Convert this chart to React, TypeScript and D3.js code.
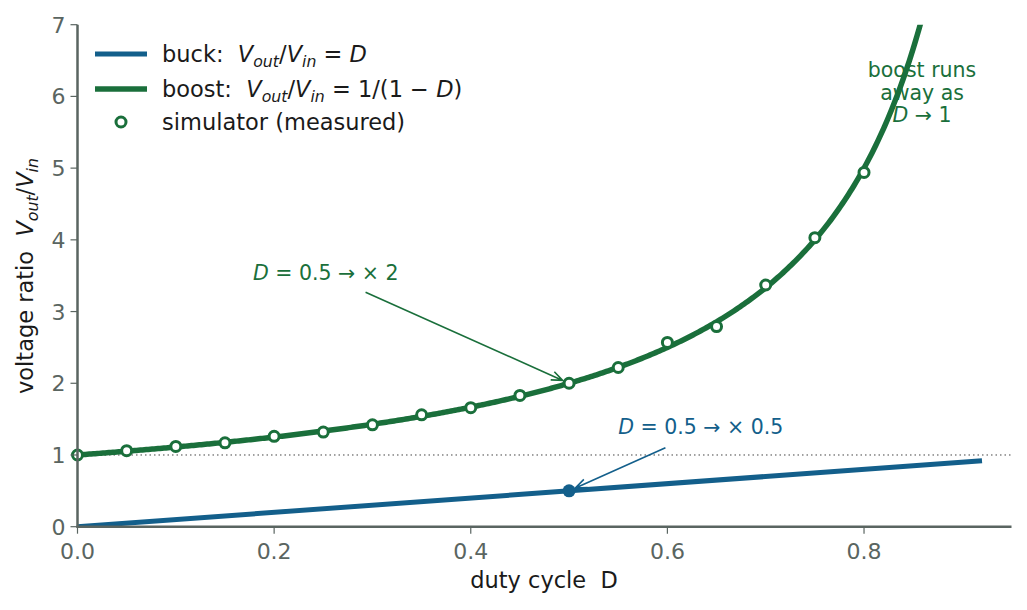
import React from 'react';
import * as d3 from 'd3';

// measured simulator points
const dutyMeasured = [0, 0.05, 0.1, 0.15, 0.2, 0.25, 0.3, 0.35, 0.4, 0.45, 0.5, 0.55, 0.6, 0.65, 0.7, 0.75, 0.8];
const ratioMeasured = [1.0, 1.06, 1.12, 1.17, 1.26, 1.32, 1.42, 1.56, 1.66, 1.83, 2.0, 2.22, 2.57, 2.79, 3.37, 4.03, 4.94];

const dutyRange = [0, 0.92];
const xTicks = [0, 0.2, 0.4, 0.6, 0.8];
const yTicks = [0, 1, 2, 3, 4, 5, 6, 7];

const BLUE = '#135f8b';
const GREEN = '#1a6f3b';
const SPINE = '#5a6561';
const TICK_TEXT = '#5a6561';
const FONT = '"DejaVu Sans", sans-serif';
const NB = '\u00a0';

type Seg = { t: string; it?: boolean; sub?: boolean };

// crude mathtext: italic + subscript segments
const MathText = ({ segs, ...rest }: { segs: Seg[]; [k: string]: any }) => {
  let shifted = false;
  return (
    <text {...rest}>
      {segs.map((s, i) => {
        let dy = 0;
        if (s.sub && !shifted) { dy = 5; shifted = true; }
        else if (!s.sub && shifted) { dy = -5; shifted = false; }
        return (
          <tspan key={i} dy={dy || undefined} fontStyle={s.it ? 'italic' : undefined}
            fontSize={s.sub ? '70%' : undefined}>{s.t}</tspan>
        );
      })}
    </text>
  );
};

const ratioSegs: Seg[] = [
  { t: 'V', it: true }, { t: 'out', it: true, sub: true }, { t: '/' },
  { t: 'V', it: true }, { t: 'in', it: true, sub: true },
];

function arrow(x1: number, y1: number, x2: number, y2: number, shrink = 7, head = 12, ang = 0.38) {
  const a = Math.atan2(y2 - y1, x2 - x1);
  const tx = x2 - shrink * Math.cos(a);
  const ty = y2 - shrink * Math.sin(a);
  const h1 = [tx - head * Math.cos(a - ang), ty - head * Math.sin(a - ang)];
  const h2 = [tx - head * Math.cos(a + ang), ty - head * Math.sin(a + ang)];
  return `M${x1},${y1}L${tx},${ty}M${h1[0]},${h1[1]}L${tx},${ty}L${h2[0]},${h2[1]}`;
}

export default function App() {
  const W = 1027, H = 610;
  const x = d3.scaleLinear().domain([0, 0.95]).range([77.5, 1011.5]);
  const y = d3.scaleLinear().domain([0, 7]).range([526.7, 24.7]);

  const line = d3.line<[number, number]>().x(d => x(d[0])).y(d => y(d[1]));
  const boostPts: [number, number][] = d3.range(0, dutyRange[1] + 1e-9, 0.002).map(d => [d, 1 / (1 - d)]);
  const buckPts: [number, number][] = dutyRange.map(d => [d, d]);

  const LBL = 22.5;

  return (
    <svg width={W} height={H} style={{ position: 'absolute', left: 0, top: 0, fontFamily: FONT }}>
      <defs>
        <clipPath id="plot">
          <rect x={x(0)} y={y(7)} width={x(0.95) - x(0)} height={y(0) - y(7)} />
        </clipPath>
      </defs>

      {/* reference line at unity */}
      <line x1={x(0)} x2={x(0.95)} y1={y(1)} y2={y(1)} stroke="#444" strokeWidth={1} strokeDasharray="1.5,3" />

      <g clipPath="url(#plot)">
        <path d={line(buckPts) || ''} fill="none" stroke={BLUE} strokeWidth={5} />
        <path d={line(boostPts) || ''} fill="none" stroke={GREEN} strokeWidth={5.5} />
      </g>
      {dutyMeasured.map((d, i) => (
        <circle key={i} cx={x(d)} cy={y(ratioMeasured[i])} r={5} fill="#fff" stroke={GREEN} strokeWidth={3} />
      ))}
      <circle cx={x(0.5)} cy={y(0.5)} r={6.5} fill={BLUE} />

      {/* axes */}
      <line x1={x(0)} x2={x(0)} y1={y(7)} y2={y(0) + 1} stroke={SPINE} strokeWidth={2.5} />
      <line x1={x(0) - 1} x2={x(0.95)} y1={y(0)} y2={y(0)} stroke={SPINE} strokeWidth={2.5} />
      {yTicks.map(t => (
        <g key={t}>
          <line x1={x(0) - 7} x2={x(0)} y1={y(t)} y2={y(t)} stroke={SPINE} strokeWidth={1.2} />
          <text x={x(0) - 12} y={y(t) + 8} textAnchor="end" fontSize={22} fill={TICK_TEXT}>{t}</text>
        </g>
      ))}
      {xTicks.map(t => (
        <g key={t}>
          <line x1={x(t)} x2={x(t)} y1={y(0)} y2={y(0) + 7} stroke={SPINE} strokeWidth={1.2} />
          <text x={x(t)} y={y(0) + 32} textAnchor="middle" fontSize={22} fill={TICK_TEXT}>{t.toFixed(1)}</text>
        </g>
      ))}
      <text x={544} y={588} textAnchor="middle" fontSize={LBL} fill="#1a1a1a">{`duty cycle${NB} D`}</text>
      <MathText transform="translate(33,276) rotate(-90)" textAnchor="middle" fontSize={LBL} fill="#1a1a1a"
        segs={[{ t: `voltage ratio${NB} ` }, ...ratioSegs]} />

      {/* legend */}
      <line x1={95} x2={147} y1={54} y2={54} stroke={BLUE} strokeWidth={5} />
      <line x1={95} x2={147} y1={89} y2={89} stroke={GREEN} strokeWidth={5.5} />
      <circle cx={121} cy={122} r={5} fill="#fff" stroke={GREEN} strokeWidth={3} />
      <MathText x={162} y={62} fontSize={LBL} fill="#1a1a1a"
        segs={[{ t: `buck:${NB} ` }, ...ratioSegs, { t: ' = ' }, { t: 'D', it: true }]} />
      <MathText x={162} y={97} fontSize={LBL} fill="#1a1a1a"
        segs={[{ t: `boost:${NB} ` }, ...ratioSegs, { t: ' = 1/(1 − ' }, { t: 'D', it: true }, { t: ')' }]} />
      <text x={162} y={130} fontSize={LBL} fill="#1a1a1a">simulator (measured)</text>

      {/* annotations */}
      <MathText x={x(0.1785)} y={y(3.44)} fontSize={20.5} fill={GREEN}
        segs={[{ t: 'D', it: true }, { t: ' = 0.5 → × 2' }]} />
      <path d={arrow(x(0.293), y(3.27), x(0.5), y(2))} fill="none" stroke={GREEN} strokeWidth={1.6} />

      <MathText x={x(0.55)} y={y(1.29)} fontSize={20.5} fill={BLUE}
        segs={[{ t: 'D', it: true }, { t: ' = 0.5 → × 0.5' }]} />
      <path d={arrow(x(0.598), y(1.1), x(0.5), y(0.5))} fill="none" stroke={BLUE} strokeWidth={1.6} />

      <g fill={GREEN} fontSize={20.5} textAnchor="middle">
        <text x={x(0.859)} y={y(6.27)}>boost runs</text>
        <text x={x(0.859)} y={y(5.95)}>away as</text>
        <MathText x={x(0.859)} y={y(5.64)} segs={[{ t: 'D', it: true }, { t: ' → 1' }]} />
      </g>
    </svg>
  );
}
